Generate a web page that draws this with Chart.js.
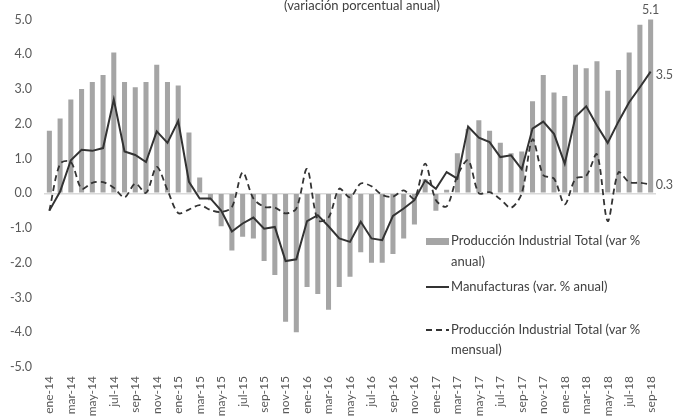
<!DOCTYPE html>
<html>
<head>
<meta charset="utf-8">
<script src="https://cdn.jsdelivr.net/npm/chart.js@4.4.1/dist/chart.umd.min.js"></script>
<style>
    html, body { margin: 0; padding: 0; background: #ffffff; overflow: hidden; }
    #wrap { position: relative; width: 676px; height: 416px; }
</style>
</head>
<body>
<div id="wrap"><canvas id="prodChart" width="676" height="416"></canvas></div>
<script>
// Months ene-14 .. sep-18
const monthNames = ['ene', 'feb', 'mar', 'abr', 'may', 'jun', 'jul', 'ago', 'sep', 'oct', 'nov', 'dic'];
const years = ['14', '15', '16', '17', '18'];
const months = [];
years.forEach(y => monthNames.forEach(m => months.push(m + '-' + y)));
months.length = 57;

// Producción Industrial Total (var % anual) - bars
const prodAnual = [
    1.8, 2.15, 2.7, 3.0, 3.2, 3.4, 4.05, 3.2, 3.05, 3.2, 3.7, 3.2,
    3.1, 1.75, 0.45, -0.2, -0.95, -1.65, -1.25, -1.3, -1.95, -2.35, -3.7, -4.0,
    -2.7, -2.9, -3.35, -2.7, -2.4, -1.7, -2.0, -2.0, -1.75, -1.3, -0.9, 0.4,
    -0.5, 0.1, 1.15, 1.85, 2.1, 1.8, 1.45, 1.15, 1.2, 2.65, 3.4, 2.9,
    2.8, 3.7, 3.6, 3.8, 2.95, 3.55, 4.05, 4.85, 5.1
];

// Manufacturas (var. % anual) - solid line
const manufAnual = [
    -0.5, 0.05, 0.95, 1.25, 1.22, 1.3, 2.7, 1.2, 1.1, 0.9, 1.78, 1.45,
    2.08, 0.33, -0.15, -0.15, -0.5, -1.1, -0.87, -0.7, -1.02, -0.97, -1.95, -1.9,
    -0.8, -0.63, -0.95, -1.3, -1.4, -0.82, -1.3, -1.35, -0.65, -0.44, -0.2, 0.37,
    0.13, 0.61, 0.42, 1.92, 1.6, 1.47, 1.04, 1.09, 0.69, 1.86, 2.06, 1.71,
    0.85, 2.2, 2.5, 1.95, 1.45, 2.06, 2.62, 3.05, 3.5
];

// Producción Industrial Total (var % mensual) - dashed line
const prodMensual = [
    -0.5, 0.85, 0.9, 0.13, 0.3, 0.32, 0.16, -0.12, 0.28, 0.01, 0.76, 0.09,
    -0.57, -0.47, -0.34, -0.48, -0.54, -0.4, 0.6, -0.15, -0.39, -0.41, -0.58, -0.44,
    0.7, -0.78, -0.7, 0.13, -0.12, 0.28, 0.2, -0.05, -0.1, 0.08, -0.15, 0.85,
    -0.2, -0.38, 0.5, 0.95, 0.0, 0.03, -0.17, -0.42, 0.0, 1.55, 0.52, 0.42,
    -0.32, 0.42, 0.5, 1.12, -0.8, 0.6, 0.32, 0.3, 0.25
];

const yTicks = [5, 4, 3, 2, 1, 0, -1, -2, -3, -4, -5];

const FONT = 'Lato, "Open Sans", sans-serif';
const TEXT_DARK = '#404040';
const TEXT_GRAY = '#595959';

// Title, end labels and the in-plot legend
const overlayPlugin = {
    id: 'overlay',
    afterDraw(chart) {
        const ctx = chart.ctx;
        const x = chart.scales.x;
        const y = chart.scales.y;
        const last = months.length - 1;

        ctx.save();
        ctx.textBaseline = 'middle';

        // subtitle
        ctx.font = '13px ' + FONT;
        ctx.fillStyle = TEXT_DARK;
        ctx.textAlign = 'center';
        ctx.fillText('(variación porcentual anual)', 362, 6);

        // end value labels
        ctx.font = '12.5px ' + FONT;
        ctx.fillStyle = TEXT_GRAY;
        ctx.fillText(prodAnual[last].toFixed(1), x.getPixelForValue(last), y.getPixelForValue(prodAnual[last]) - 6);
        ctx.textAlign = 'left';
        const xEnd = x.getPixelForValue(last) + 5;
        ctx.fillText(manufAnual[last].toFixed(1), xEnd, y.getPixelForValue(manufAnual[last]) + 3);
        ctx.fillText(prodMensual[last].toFixed(1), xEnd, y.getPixelForValue(prodMensual[last]));

        // legend
        ctx.font = '13px ' + FONT;
        ctx.fillStyle = '#a5a5a5';
        ctx.fillRect(426, 238, 23, 7);
        ctx.fillStyle = TEXT_DARK;
        ctx.fillText('Producción Industrial Total (var %', 451, 241);
        ctx.fillText('anual)', 451, 262);

        ctx.strokeStyle = '#333333';
        ctx.lineWidth = 2;
        ctx.beginPath();
        ctx.moveTo(426, 287);
        ctx.lineTo(449, 287);
        ctx.stroke();
        ctx.fillText('Manufacturas (var. % anual)', 451, 287);

        ctx.lineWidth = 1.8;
        ctx.setLineDash([6, 4]);
        ctx.beginPath();
        ctx.moveTo(426, 330);
        ctx.lineTo(449, 330);
        ctx.stroke();
        ctx.setLineDash([]);
        ctx.fillText('Producción Industrial Total (var %', 451, 330);
        ctx.fillText('mensual)', 451, 350);

        ctx.restore();
    }
};

const ctx = document.getElementById('prodChart').getContext('2d');
const prodChart = new Chart(ctx, {
    type: 'bar',
    data: {
        labels: months,
        datasets: [
            {
                type: 'line',
                label: 'Manufacturas (var. % anual)',
                data: manufAnual,
                borderColor: '#333333',
                borderWidth: 2,
                pointRadius: 0,
                tension: 0,
                order: 1
            },
            {
                type: 'line',
                label: 'Producción Industrial Total (var % mensual)',
                data: prodMensual,
                borderColor: '#333333',
                borderWidth: 1.8,
                borderDash: [6, 4],
                pointRadius: 0,
                tension: 0.3,
                order: 2
            },
            {
                type: 'bar',
                label: 'Producción Industrial Total (var % anual)',
                data: prodAnual,
                backgroundColor: '#a5a5a5',
                categoryPercentage: 1,
                barPercentage: 0.47,
                order: 3
            }
        ]
    },
    options: {
        responsive: false,
        animation: false,
        devicePixelRatio: 1,
        layout: { padding: { top: 19, right: 20, left: 0, bottom: 0 } },
        plugins: {
            legend: { display: false },
            tooltip: { enabled: false }
        },
        scales: {
            x: {
                offset: true,
                border: { display: false },
                grid: { display: false, drawTicks: false },
                afterFit: scale => { scale.height = 49; },
                ticks: {
                    autoSkip: false,
                    minRotation: 90,
                    maxRotation: 90,
                    padding: 9,
                    color: TEXT_GRAY,
                    font: { family: FONT, size: 12 },
                    callback: (v, i) => (i % 2 === 0 ? months[i] : '')
                }
            },
            y: {
                min: -5,
                max: 5,
                border: { display: false },
                afterFit: scale => { scale.width = 44; },
                afterBuildTicks: scale => { scale.ticks = yTicks.map(v => ({ value: v })); },
                grid: {
                    drawTicks: false,
                    color: c => (c.tick && c.tick.value === 0 ? '#d9d9d9' : 'rgba(0,0,0,0)'),
                    lineWidth: 1.5
                },
                ticks: {
                    padding: 12,
                    color: TEXT_GRAY,
                    font: { family: FONT, size: 12.5 },
                    callback: v => v.toFixed(1)
                }
            }
        }
    },
    plugins: [overlayPlugin]
});
</script>
</body>
</html>
